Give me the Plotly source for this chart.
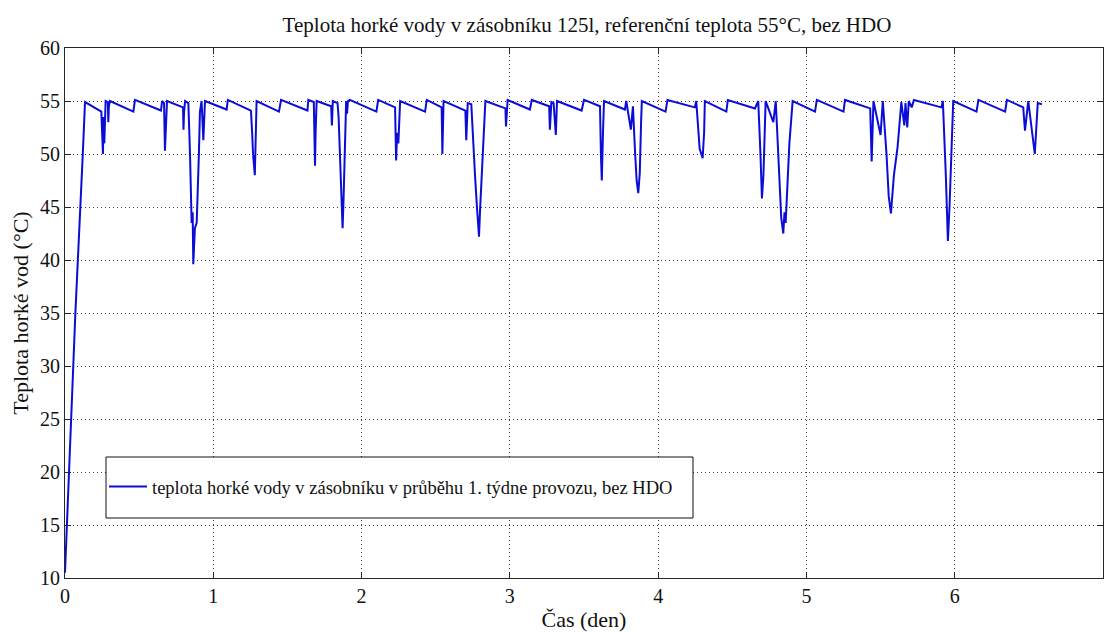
import plotly.graph_objects as go

# Time in days and hot-water temperature in the 125 l tank (°C)
cas_den = [
    0.000, 0.070, 0.120, 0.135,
    0.245, 0.250, 0.256, 0.260, 0.265, 0.274, 0.289, 0.292, 0.296, 0.303,
    0.461, 0.472,
    0.647, 0.655, 0.668, 0.674, 0.680, 0.688,
    0.796, 0.799, 0.803, 0.810, 0.821,
    0.832, 0.843, 0.854, 0.861, 0.865, 0.876, 0.888, 0.903, 0.910, 0.921, 0.933, 0.944,
    1.090, 1.098,
    1.254, 1.262, 1.268, 1.280, 1.285, 1.292,
    1.443, 1.457,
    1.635, 1.641, 1.678, 1.683, 1.686, 1.690, 1.697,
    1.795, 1.800, 1.806,
    1.838, 1.845, 1.852, 1.860, 1.866, 1.872, 1.878, 1.885, 1.890, 1.896, 1.902, 1.908, 1.920,
    2.100, 2.112,
    2.226, 2.233, 2.240, 2.248, 2.253, 2.260,
    2.428, 2.440,
    2.540, 2.545, 2.553,
    2.700, 2.706, 2.716, 2.740, 2.750, 2.765, 2.778, 2.792, 2.800, 2.810, 2.825, 2.835,
    2.970, 2.974, 2.985,
    3.135, 3.148,
    3.265, 3.270, 3.280, 3.295, 3.310, 3.318,
    3.484, 3.500,
    3.608, 3.614, 3.620, 3.628, 3.635,
    3.776, 3.785, 3.816, 3.830, 3.845, 3.855, 3.866, 3.876, 3.885, 3.890,
    4.050, 4.063,
    4.247, 4.257, 4.280, 4.300, 4.310, 4.315,
    4.460, 4.470,
    4.653, 4.675, 4.690, 4.700, 4.710, 4.725, 4.777, 4.793,
    4.800, 4.815, 4.830, 4.844, 4.852, 4.860, 4.870, 4.885, 4.907,
    5.058, 5.070,
    5.250, 5.260,
    5.430, 5.440, 5.452, 5.500, 5.515,
    5.540, 5.555, 5.570, 5.590, 5.615, 5.640, 5.660, 5.668, 5.680, 5.690, 5.710, 5.725,
    5.910, 5.920, 5.940, 5.954, 5.965, 5.978, 5.990,
    6.147, 6.160,
    6.340, 6.352,
    6.462, 6.474, 6.496, 6.540, 6.560, 6.588,
]
teplota = [
    10.5, 35.0, 50.0, 54.9,
    54.0, 51.5, 50.0, 53.5, 51.0, 55.0, 54.9, 53.0, 54.5, 55.0,
    54.0, 55.1,
    54.1, 55.0, 54.8, 50.3, 53.0, 55.0,
    54.4, 52.3, 54.0, 55.0, 54.9,
    54.8, 50.0, 43.5, 44.5, 39.6, 43.0, 43.5, 50.0, 54.0, 55.0, 51.3, 55.0,
    54.2, 55.1,
    54.1, 52.0, 50.0, 48.0, 50.5, 55.0,
    54.0, 55.1,
    54.1, 55.1, 54.9, 51.0, 48.9, 52.0, 55.0,
    54.5, 52.7, 55.0,
    54.8, 53.5, 51.0, 47.5, 45.0, 43.0, 45.5, 50.0, 53.3, 55.0, 53.8, 55.0, 55.1,
    54.0, 55.1,
    54.4, 49.4, 52.0, 51.0, 53.5, 55.0,
    54.0, 55.1,
    54.4, 50.0, 55.0,
    54.1, 51.3, 54.8, 54.7, 51.5, 48.0, 45.0, 42.2, 45.0, 48.0, 53.5, 55.0,
    54.3, 52.6, 55.1,
    54.2, 55.1,
    54.5, 52.3, 54.9, 54.8, 51.8, 55.0,
    54.1, 55.1,
    54.5, 50.0, 47.5, 52.0, 55.0,
    54.2, 55.0, 52.3, 54.5, 50.0, 47.5, 46.3, 48.2, 53.0, 55.0,
    54.0, 55.1,
    54.4, 55.0, 50.5, 49.6, 52.0, 55.0,
    54.0, 55.1,
    54.3, 55.0, 50.0, 45.8, 48.0, 55.0, 53.0, 55.0,
    53.0, 48.0, 44.0, 42.5, 44.5, 43.5, 46.0, 51.0, 55.0,
    54.0, 55.1,
    54.0, 55.1,
    54.3, 49.3, 55.0, 51.8, 55.0,
    50.0, 46.0, 44.4, 48.0, 50.7, 54.9, 52.7, 54.8, 52.5, 55.0, 54.4, 55.1,
    54.4, 55.0, 48.0, 41.8, 45.0, 49.5, 55.0,
    54.0, 55.1,
    54.0, 55.1,
    54.4, 52.2, 55.0, 50.0, 54.8, 54.7,
]

x_ticks = [0, 1, 2, 3, 4, 5, 6, 7]
y_ticks = [10, 15, 20, 25, 30, 35, 40, 45, 50, 55, 60]

serif = "Liberation Serif"
txt_col = "#111111"
axis_col = "#262626"

fig = go.Figure()
fig.add_trace(go.Scatter(
    x=cas_den, y=teplota, mode="lines",
    line=dict(color="rgb(12,12,215)", width=2),
    name="teplota horké vody v zásobníku v průběhu 1. týdne provozu, bez HDO",
))

axis_common = dict(
    showline=True, linecolor=axis_col, linewidth=1, mirror="allticks",
    ticks="inside", ticklen=6, tickcolor=axis_col,
    showgrid=True, gridcolor="#3a3a3a", griddash="1px,3px", gridwidth=1,
    zeroline=False, tickfont=dict(family=serif, size=20, color=txt_col),
)

fig.update_xaxes(range=[0, 7], tickvals=x_ticks,
                 title=dict(text="Čas (den)", font=dict(family=serif, size=22, color=txt_col), standoff=6),
                 **axis_common)
fig.update_yaxes(range=[10, 60], tickvals=y_ticks,
                 title=dict(text="Teplota horké vod (°C)", font=dict(family=serif, size=22, color=txt_col), standoff=5),
                 **axis_common)

# legend frame (white box hiding the grid underneath)
fig.add_shape(type="rect", xref="paper", yref="paper",
              x0=(106 - 65) / 1038, x1=(693 - 65) / 1038,
              y0=(578 - 518) / 530, y1=(578 - 457) / 530,
              line=dict(color=txt_col, width=1), fillcolor="white", layer="above")

fig.update_layout(
    width=1105, height=632,
    margin=dict(l=65, r=2, t=48, b=54),
    paper_bgcolor="white", plot_bgcolor="white",
    font=dict(family=serif, color=txt_col),
    title=dict(text="Teplota horké vody v zásobníku 125l, referenční teplota 55°C, bez HDO",
               font=dict(family=serif, size=21, color=txt_col),
               x=587 / 1105, xanchor="center", y=1 - 25 / 632, yanchor="middle"),
    showlegend=True,
    legend=dict(x=(104 - 65) / 1038, y=(578 - 487) / 530, xanchor="left", yanchor="middle",
                bgcolor="rgba(0,0,0,0)", borderwidth=0, itemwidth=38,
                font=dict(family=serif, size=18.5, color=txt_col)),
)

fig.write_html("out.html")
